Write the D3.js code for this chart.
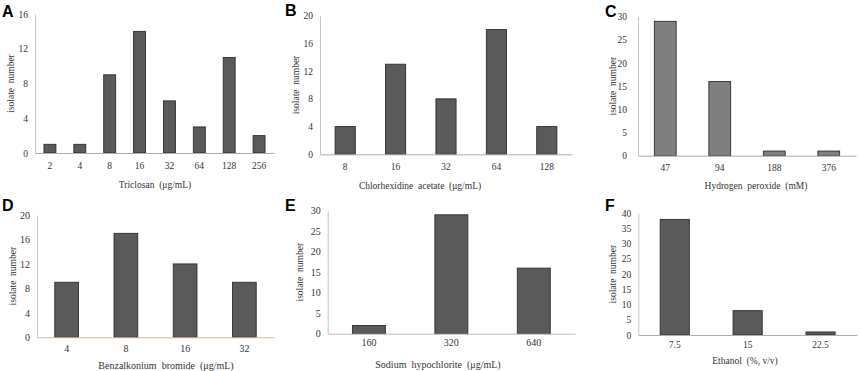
<!DOCTYPE html>
<html>
<head>
<meta charset="utf-8">
<script src="https://cdn.jsdelivr.net/npm/d3@7"></script>
<style>
  body { margin: 0; background: #fff; }
  svg { display: block; }
  text { font-family: "Liberation Serif", "Times New Roman", serif; fill: #333; }
</style>
</head>
<body>
<div id="chart"></div>
<script>
// data
const triclosanDoses = ["2", "4", "8", "16", "32", "64", "128", "256"];
const triclosanCounts = [1, 1, 9, 14, 6, 3, 11, 2];

const chlorhexidineDoses = ["8", "16", "32", "64", "128"];
const chlorhexidineCounts = [4, 13, 8, 18, 4];

const peroxideDoses = ["47", "94", "188", "376"];
const peroxideCounts = [29, 16, 1, 1];

const benzalkoniumDoses = ["4", "8", "16", "32"];
const benzalkoniumCounts = [9, 17, 12, 9];

const hypochloriteDoses = ["160", "320", "640"];
const hypochloriteCounts = [2, 29, 16];

const ethanolDoses = ["7.5", "15", "22.5"];
const ethanolCounts = [38, 8, 1];

const yTicksA = [0, 4, 8, 12, 16];
const yTicksB = [0, 4, 8, 12, 16, 20];
const yTicksC = [0, 5, 10, 15, 20, 25, 30];
const yTicksD = [0, 4, 8, 12, 16, 20];
const yTicksE = [0, 5, 10, 15, 20, 25, 30];
const yTicksF = [0, 5, 10, 15, 20, 25, 30, 35, 40];

const svg = d3.select("#chart")
    .append("svg")
    .attr("width", 861)
    .attr("height", 371);

// one entry per panel; the layout numbers are only positions
const panels = [
    { letter: "A", cats: triclosanDoses, vals: triclosanCounts, ticks: yTicksA,
      title: "Triclosan  (\u03bcg/mL)", fs: 9.5,
      x0: 35, x1: 274, yTop: 14, yBot: 153, labOff: 7, tickY: 166,
      titleX: 155, titleY: 185, yTitleX: 11, letterX: 2, letterY: 17, fill: "#5a5a5a", xAxis: "#b3aca8" },
    { letter: "B", cats: chlorhexidineDoses, vals: chlorhexidineCounts, ticks: yTicksB,
      title: "Chlorhexidine  acetate  (\u03bcg/mL)", fs: 9.5,
      x0: 320, x1: 572, yTop: 15.7, yBot: 154.3, labOff: 7, tickY: 167,
      titleX: 420, titleY: 186, yTitleX: 296, letterX: 285, letterY: 16, fill: "#5a5a5a", xAxis: "#b3aca8" },
    { letter: "C", cats: peroxideDoses, vals: peroxideCounts, ticks: yTicksC,
      title: "Hydrogen  peroxide  (mM)", fs: 9.5,
      x0: 638, x1: 856, yTop: 16.7, yBot: 155.7, labOff: 11, tickY: 168,
      titleX: 756, titleY: 186, yTitleX: 613, letterX: 605, letterY: 17, fill: "#7f7f7f", xAxis: "#b3aca8" },
    { letter: "D", cats: benzalkoniumDoses, vals: benzalkoniumCounts, ticks: yTicksD,
      title: "Benzalkonium  bromide  (\u03bcg/mL)", fs: 10,
      x0: 37, x1: 274, yTop: 215, yBot: 337.3, labOff: 7, tickY: 349,
      titleX: 166, titleY: 365, yTitleX: 13, letterX: 2, letterY: 211, fill: "#5a5a5a", xAxis: "#d9b9a6" },
    { letter: "E", cats: hypochloriteDoses, vals: hypochloriteCounts, ticks: yTicksE,
      title: "Sodium  hypochlorite  (\u03bcg/mL)", fs: 10,
      x0: 327.7, x1: 575, yTop: 210.7, yBot: 333.7, labOff: 7, tickY: 343,
      titleX: 438, titleY: 364.5, yTitleX: 300, letterX: 285, letterY: 211, fill: "#5a5a5a", xAxis: "#c4bcb6" },
    { letter: "F", cats: ethanolDoses, vals: ethanolCounts, ticks: yTicksF,
      title: "Ethanol  (%, v/v)", fs: 9.5,
      x0: 638.3, x1: 857, yTop: 213.3, yBot: 335, labOff: 7, tickY: 345,
      titleX: 745, titleY: 361, yTitleX: 613, letterX: 605, letterY: 211, fill: "#5a5a5a", xAxis: "#b3aca8" }
];

panels.forEach(function (p) {
    const g = svg.append("g");
    const ymax = p.ticks[p.ticks.length - 1];

    const x = d3.scaleBand()
        .domain(p.cats)
        .range([p.x0, p.x1])
        .paddingInner(0.6)
        .paddingOuter(0.3);

    const y = d3.scaleLinear()
        .domain([0, ymax])
        .range([p.yBot, p.yTop]);

    // bars
    g.selectAll("rect")
        .data(p.cats.map((c, i) => ({ cat: c, value: p.vals[i] })))
        .join("rect")
        .attr("x", d => x(d.cat))
        .attr("y", d => y(d.value))
        .attr("width", x.bandwidth())
        .attr("height", d => y(0) - y(d.value))
        .attr("fill", p.fill)
        .attr("stroke", "#2e2e2e")
        .attr("stroke-width", 0.9);

    // y axis: line + labels, no tick marks
    const ay = g.append("g")
        .attr("transform", `translate(${p.x0},0)`)
        .call(d3.axisLeft(y).tickValues(p.ticks).tickSize(0).tickPadding(p.labOff));
    ay.select(".domain").attr("stroke", "#c9c3c3").attr("stroke-width", 1);
    ay.selectAll("text")
        .style("font-family", "'Liberation Serif', serif")
        .style("font-size", p.fs + "px")
        .attr("fill", "#333");

    // x axis
    const ax = g.append("g")
        .attr("transform", `translate(0,${p.yBot})`)
        .call(d3.axisBottom(x).tickSize(0).tickPadding(0).tickSizeOuter(0));
    ax.select(".domain").attr("stroke", p.xAxis).attr("stroke-width", 1);
    ax.selectAll("text")
        .attr("y", p.tickY - p.yBot)
        .attr("dy", "0.35em")
        .style("font-family", "'Liberation Serif', serif")
        .style("font-size", p.fs + "px")
        .attr("fill", "#333");

    // axis titles
    g.append("text")
        .attr("x", p.titleX)
        .attr("y", p.titleY)
        .attr("dy", "0.35em")
        .attr("text-anchor", "middle")
        .style("font-size", p.fs + "px")
        .style("white-space", "pre")
        .text(p.title);

    g.append("text")
        .attr("transform", `translate(${p.yTitleX},${(p.yTop + p.yBot) / 2}) rotate(-90)`)
        .attr("dy", "0.35em")
        .attr("text-anchor", "middle")
        .style("font-size", "9.5px")
        .style("white-space", "pre")
        .text("isolate  number");

    // panel letter
    g.append("text")
        .attr("x", p.letterX)
        .attr("y", p.letterY)
        .style("font-family", "'Liberation Sans', Arial, sans-serif")
        .style("font-weight", "bold")
        .style("font-size", "16px")
        .style("fill", "#000")
        .text(p.letter);
});
</script>
</body>
</html>
